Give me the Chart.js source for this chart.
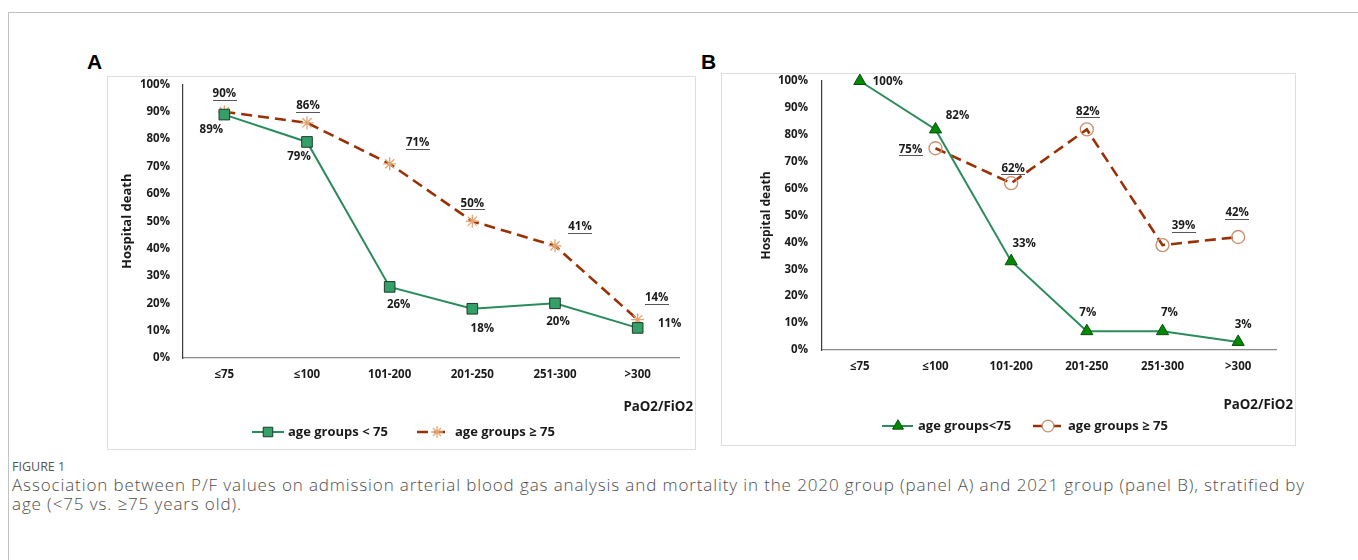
<!DOCTYPE html>
<html>
<head>
<meta charset="utf-8">
<script src="https://cdn.jsdelivr.net/npm/chart.js@4.4.1/dist/chart.umd.min.js"></script>
<style>
  html,body{margin:0;padding:0;background:#fff;}
  body{width:1358px;height:560px;position:relative;overflow:hidden;}
  #frame{position:absolute;left:8px;top:12px;width:1400px;height:600px;border-left:1px solid #c2c2c2;border-top:1px solid #c2c2c2;}
  .box{position:absolute;border:1px solid #dedede;box-sizing:border-box;}
  .wrap{position:absolute;line-height:0;}
  .plabel{position:absolute;font:bold 21px "Liberation Sans",Arial,sans-serif;color:#000;line-height:1;}
  #figlab{position:absolute;left:12px;top:458px;font:400 12.5px "Open Sans",sans-serif;color:#555;}
  #cap{position:absolute;left:12px;top:476px;font:300 17px "Open Sans",sans-serif;color:#4d4d4d;line-height:18.5px;white-space:nowrap;}
</style>
</head>
<body>
<div id="frame"></div>
<div class="plabel" style="left:87px;top:51px;">A</div>
<div class="plabel" style="left:701px;top:51px;">B</div>
<div class="box" style="left:107px;top:76px;width:589px;height:374px;"></div>
<div class="box" style="left:721px;top:73px;width:575px;height:373px;"></div>
<div class="wrap" style="left:107px;top:76px;"><canvas id="cA" width="588" height="373"></canvas></div>
<div class="wrap" style="left:721px;top:73px;"><canvas id="cB" width="574" height="372"></canvas></div>
<div id="figlab">FIGURE 1</div>
<div id="cap"><span id="capl1">Association between P/F values on admission arterial blood gas analysis and mortality in the 2020 group (panel A) and 2021 group (panel B), stratified by</span><br><span>age (&lt;75 vs. ≥75 years old).</span></div>
<script>
// ---------- DATA ----------
const categories = ['≤75', '≤100', '101-200', '201-250', '251-300', '>300'];
const panelA_under75 = [89, 79, 26, 18, 20, 11];
const panelA_over75  = [90, 86, 71, 50, 41, 14];
const panelB_under75 = [100, 82, 33, 7, 7, 3];
const panelB_over75  = [null, 75, 62, 82, 39, 42];
const seriesNamesA = ['age groups < 75', 'age groups ≥ 75'];
const seriesNamesB = ['age groups<75', 'age groups ≥ 75'];
const yAxisTitle = 'Hospital death';
const xAxisTitle = 'PaO2/FiO2';
const yMin = 0, yMax = 100, yStep = 10;

// ---------- STYLE ----------
const FONT = '"Open Sans", "DejaVu Sans", sans-serif';
const TXT = '#1a1a1a';
const GREEN_LINE = '#2a8c5c';
const BROWN_LINE = '#9a3004';

const labelPlugin = {
  id: 'ptlabels',
  afterDatasetsDraw(chart, args, opts) {
    const ctx = chart.ctx;
    chart.data.datasets.forEach((ds, di) => {
      const meta = chart.getDatasetMeta(di);
      meta.data.forEach((pt, i) => {
        const v = ds.data[i];
        if (v == null) return;
        const [dx, dy] = opts.offsets[di][i];
        const x = pt.x + dx, y = pt.y + dy;
        const txt = v + '%';
        ctx.save();
        ctx.font = 'bold 11.5px ' + FONT;
        ctx.fillStyle = TXT;
        ctx.textAlign = 'center';
        ctx.textBaseline = 'middle';
        ctx.fillText(txt, x, y);
        if (opts.underline[di]) {
          const w = ctx.measureText(txt).width;
          ctx.fillStyle = '#555';
          ctx.fillRect(Math.round(x - w / 2), Math.round(y + 6), Math.round(w), 1);
        }
        ctx.restore();
      });
    });
  }
};

function legendMarker(ctx, style, r, x, y, fill, stroke, bw) {
  ctx.save();
  ctx.setLineDash([]);
  ctx.fillStyle = fill;
  ctx.strokeStyle = stroke;
  ctx.lineWidth = bw;
  Chart.helpers.drawPoint(ctx, {pointStyle: style, radius: r, rotation: 0, borderWidth: bw}, x, y);
  ctx.restore();
}

const extrasPlugin = {
  id: 'extras',
  afterDraw(chart, args, opts) {
    const ctx = chart.ctx;
    ctx.save();
    ctx.font = 'bold 13.3px ' + FONT;
    ctx.fillStyle = TXT;
    ctx.textAlign = 'right';
    ctx.textBaseline = 'middle';
    ctx.fillText(opts.xTitle, opts.xTitlePos[0], opts.xTitlePos[1]);
    ctx.restore();
    opts.legend.forEach((it, di) => {
      const ds = chart.data.datasets[di];
      ctx.save();
      ctx.strokeStyle = ds.borderColor;
      ctx.lineWidth = ds.borderWidth;
      ctx.setLineDash(ds.borderDash || []);
      ctx.beginPath();
      ctx.moveTo(it.x0, it.y);
      ctx.lineTo(it.x1, it.y);
      ctx.stroke();
      ctx.restore();
      legendMarker(ctx, ds.pointStyle, ds.pointRadius * 0.9, it.mx, it.y,
                   it.fill || ds.pointBackgroundColor, ds.pointBorderColor, ds.pointBorderWidth);
      ctx.save();
      ctx.font = 'bold 13px ' + FONT;
      ctx.fillStyle = TXT;
      ctx.textAlign = 'left';
      ctx.textBaseline = 'middle';
      ctx.fillText(it.text, it.tx, it.y);
      ctx.restore();
    });
  }
};

function makeChart(id, cfg) {
  return new Chart(document.getElementById(id), {
    type: 'line',
    data: {
      labels: categories,
      datasets: cfg.datasets
    },
    plugins: [labelPlugin, extrasPlugin],
    options: {
      responsive: false,
      animation: false,
      events: [],
      layout: {padding: {left: 0, top: cfg.padTop, right: cfg.padRight, bottom: 0}},
      plugins: {
        legend: {display: false},
        tooltip: {enabled: false},
        ptlabels: {offsets: cfg.offsets, underline: [false, true]},
        extras: {xTitle: xAxisTitle, xTitlePos: cfg.xTitlePos, legend: cfg.legend}
      },
      scales: {
        x: {
          offset: true,
          grid: {display: true, drawOnChartArea: false, drawTicks: true, tickLength: cfg.xTickLen, color: 'rgba(0,0,0,0)'},
          border: {display: true, color: '#8a8a8a', width: 1.2},
          ticks: {padding: 0, color: TXT, font: {family: FONT, size: 11.5, weight: 'bold'}},
          afterFit(s) { s.height = cfg.xHeight; }
        },
        y: {
          min: yMin, max: yMax,
          grid: {display: true, drawOnChartArea: false, drawTicks: true, tickLength: cfg.yTickLen, color: 'rgba(0,0,0,0)'},
          border: {display: true, color: '#3a3a3a', width: 1.2},
          ticks: {stepSize: yStep, padding: 0, color: TXT,
                  font: {family: FONT, size: 11.5, weight: 'bold'},
                  callback: v => v + '%'},
          title: {display: true, text: yAxisTitle, color: TXT,
                  font: {family: FONT, size: cfg.yTitleSize, weight: 'bold'},
                  padding: {top: cfg.yTitlePad, bottom: 0}},
          afterFit(s) { s.width = cfg.yWidth; }
        }
      }
    }
  });
}

makeChart('cA', {
  padTop: 7, padRight: 16, xHeight: 91, xTickLen: 10, yWidth: 76, yTickLen: 13, yTitlePad: 12, yTitleSize: 13,
  xTitlePos: [586, 331],
  datasets: [
    {label: seriesNamesA[0], data: panelA_under75, borderColor: GREEN_LINE, borderWidth: 2, clip: false,
     pointStyle: 'rect', pointRadius: 7.5, pointBackgroundColor: '#34a068', pointBorderColor: '#1c3b28', pointBorderWidth: 1, tension: 0},
    {label: seriesNamesA[1], data: panelA_over75, borderColor: BROWN_LINE, borderWidth: 2.6, borderDash: [11, 6], clip: false,
     pointStyle: 'star', pointRadius: 6.5, pointBackgroundColor: '#e3a36f', pointBorderColor: '#e3a36f', pointBorderWidth: 1.3, tension: 0}
  ],
  offsets: [
    [[-13, 15], [-8, 15], [9, 18], [10, 20], [3, 18], [32, -4]],
    [[0, -18], [1, -17], [28, -21], [0, -18], [25, -19], [19, -22]]
  ],
  legend: [
    {x0: 145, x1: 177, mx: 161, y: 356, tx: 181, text: seriesNamesA[0]},
    {x0: 310, x1: 343, mx: 330, y: 356, tx: 348, text: seriesNamesA[1]}
  ]
});

makeChart('cB', {
  padTop: 8, padRight: 19, xHeight: 95, xTickLen: 10, yWidth: 101, yTickLen: 14, yTitlePad: 38, yTitleSize: 12,
  xTitlePos: [572, 332],
  datasets: [
    {label: seriesNamesB[0], data: panelB_under75, borderColor: GREEN_LINE, borderWidth: 2, clip: false,
     pointStyle: 'triangle', pointRadius: 7, pointBackgroundColor: '#008a00', pointBorderColor: '#0d4d12', pointBorderWidth: 1, tension: 0},
    {label: seriesNamesB[1], data: panelB_over75, borderColor: BROWN_LINE, borderWidth: 2.6, borderDash: [11, 6], clip: false,
     pointStyle: 'circle', pointRadius: 6.5, pointBackgroundColor: 'rgba(255,255,255,0)', pointBorderColor: '#c98f6c', pointBorderWidth: 1.3, tension: 0, spanGaps: false}
  ],
  offsets: [
    [[28, 1], [22, -14], [13, -18], [1, -18], [7, -18], [5, -17]],
    [[0, 0], [-25, 1], [2, -15], [1, -18], [21, -19], [-1, -24]]
  ],
  legend: [
    {x0: 161, x1: 192, mx: 177, y: 353, tx: 197, text: seriesNamesB[0]},
    {x0: 312, x1: 344, mx: 327, y: 353, tx: 347, text: seriesNamesB[1], fill: '#ffffff'}
  ]
});

// fit first caption line to the reference width
(function () {
  const l1 = document.getElementById('capl1');
  const cap = document.getElementById('cap');
  const target = 1293;
  const w = l1.getBoundingClientRect().width;
  const n = l1.textContent.length;
  cap.style.letterSpacing = ((target - w) / n) + 'px';
})();
</script>
</body>
</html>
